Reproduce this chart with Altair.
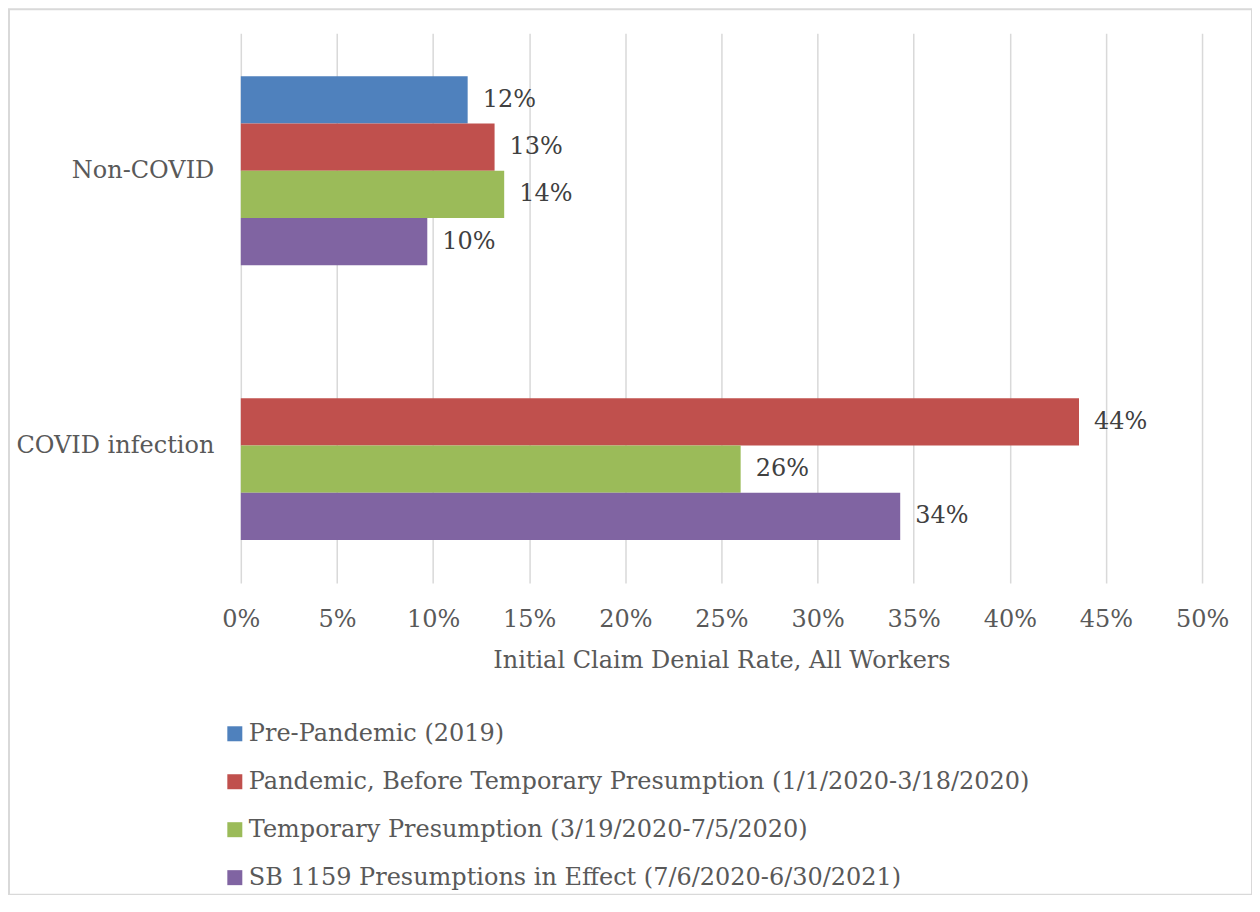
import altair as alt
import pandas as pd

categories = ["Non-COVID", "COVID infection"]
series = [
    "Pre-Pandemic (2019)",
    "Pandemic, Before Temporary Presumption (1/1/2020-3/18/2020)",
    "Temporary Presumption (3/19/2020-7/5/2020)",
    "SB 1159 Presumptions in Effect (7/6/2020-6/30/2021)",
]
colors = ["#4F81BD", "#C0504D", "#9BBB59", "#8064A2"]
non_covid = [0.118, 0.132, 0.137, 0.097]
covid_infection = [None, 0.436, 0.260, 0.343]
x_ticks = [0.0, 0.05, 0.10, 0.15, 0.20, 0.25, 0.30, 0.35, 0.40, 0.45, 0.50]

rows = []
for cat, vals in zip(categories, [non_covid, covid_infection]):
    for s, v in zip(series, vals):
        if v is not None:
            rows.append({"category": cat, "series": s, "value": v})
df = pd.DataFrame(rows)

FONT = "DejaVu Serif"
GREY = "#595959"
FS = 24

y_enc = alt.Y("category:N", sort=categories,
              scale=alt.Scale(paddingInner=0.3127, paddingOuter=0.156),
              axis=alt.Axis(title=None, domain=False, ticks=False, labelPadding=27,
                            labelFontSize=FS, labelColor=GREY, labelFont=FONT,
                            labelLimit=400))
yoff_enc = alt.YOffset("series:N", sort=series,
                       scale=alt.Scale(domain=series, paddingInner=0, paddingOuter=0))
x_enc = alt.X("value:Q",
              scale=alt.Scale(domain=[0, 0.5], nice=False),
              axis=alt.Axis(values=x_ticks, format=".0%", grid=True, gridColor="#d9d9d9",
                            gridWidth=1.5, domain=False, ticks=False, labelPadding=25,
                            labelFlush=False,
                            labelFontSize=FS, labelColor=GREY, labelFont=FONT,
                            title="Initial Claim Denial Rate, All Workers",
                            titleFontSize=FS, titleColor=GREY, titleFont=FONT,
                            titleFontWeight="normal", titlePadding=17))

bars = alt.Chart(df).mark_bar().encode(
    x=x_enc,
    y=y_enc,
    yOffset=yoff_enc,
    color=alt.Color("series:N", sort=series,
                    scale=alt.Scale(domain=series, range=colors),
                    legend=alt.Legend(title=None, orient="none", legendX=-18, legendY=689,
                                      symbolType="square", symbolSize=225,
                                      symbolStrokeWidth=0, labelFontSize=FS,
                                      labelColor=GREY, labelFont=FONT, labelOffset=2,
                                      rowPadding=24, labelLimit=1000)),
)

labels = alt.Chart(df).mark_text(align="left", baseline="middle", dx=15,
                                 fontSize=FS, font=FONT, color="#404040").encode(
    x="value:Q",
    y=alt.Y("category:N", sort=categories),
    yOffset=alt.YOffset("series:N", sort=series),
    text=alt.Text("value:Q", format=".0%"),
)

frame = alt.Chart(pd.DataFrame({"k": [0]})).mark_rect(
    fill="transparent", stroke="#d9d9d9", strokeWidth=2).encode(
    x=alt.value(-232), x2=alt.value(1012), y=alt.value(-24), y2=alt.value(862))

chart = alt.layer(frame, bars, labels).properties(
    width=962, height=550,
    autosize=alt.AutoSizeParams(type="none"),
    padding={"left": 233, "top": 25, "right": 50, "bottom": 312},
).configure_view(stroke=None)

chart.save("out.html", embed_options={"renderer": "svg", "actions": False})
